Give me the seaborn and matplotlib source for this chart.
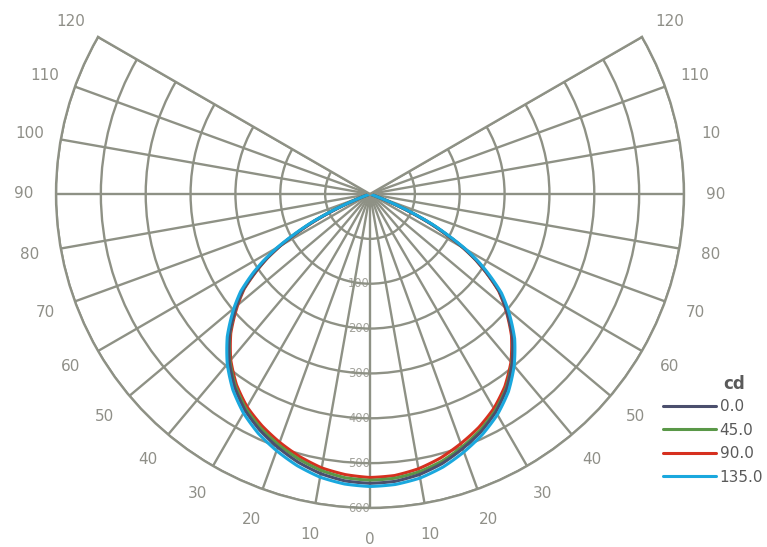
import numpy as np
import pandas as pd
import matplotlib
matplotlib.use("Agg")
import matplotlib.pyplot as plt
import seaborn as sns

# ---- data ----
ANGLES_DEG = [-90, -70, -68, -66, -64, -62, -60, -58, -56, -53, -50, -45, -40, -35,
              -30, -25, -20, -15, -10, -5, 0, 5, 10, 15, 20, 25, 30, 35, 40, 45,
              50, 53, 56, 58, 60, 62, 64, 66, 68, 70, 90]
CD_0 = [-100, -100, -66, -15, 39, 84, 132, 172, 206, 254, 289, 343, 388, 426,
        457, 481, 501, 519, 533, 542, 545, 543, 535, 522, 504, 485, 461, 431, 393, 349,
        295, 261, 213, 180, 141, 94, 50, -5, -58, -100, -100]
CD_45 = [-100, -100, -62, -10, 42, 86, 133, 173, 207, 254, 289, 342, 386, 423,
         453, 476, 495, 512, 526, 535, 538, 536, 529, 517, 500, 481, 458, 429, 392, 349,
         296, 262, 214, 181, 142, 95, 52, -2, -55, -100, -100]
CD_90 = [-100, -100, -67, -16, 37, 82, 130, 170, 203, 251, 285, 339, 383, 419,
         448, 470, 489, 506, 520, 528, 532, 530, 522, 509, 492, 474, 452, 424, 389, 346,
         293, 259, 211, 178, 139, 92, 48, -6, -59, -100, -100]
CD_135 = [-100, -100, -60, -8, 46, 92, 139, 179, 214, 261, 296, 350, 395, 433,
          464, 489, 509, 527, 541, 549, 552, 550, 543, 530, 512, 492, 468, 438, 400, 356,
          302, 267, 219, 186, 147, 100, 56, 2, -52, -100, -100]
PLANES = ["0.0", "45.0", "90.0", "135.0"]
RING_VALUES = [0, 100, 200, 300, 400, 500, 600]
RING_LABELS = ["", "100", "200", "300", "400", "500", "600"]
THETA_TICKS = list(range(-120, 121, 10))
THETA_LABELS = ["120", "110", "100", "90", "80", "70", "60", "50", "40", "30", "20", "10",
                "0", "10", "20", "30", "40", "50", "60", "70", "80", "90", "10", "110", "120"]

# ---- styles ----
COLORS = ["#4b4f6d", "#5a9848", "#d6301f", "#1aa8de"]
DRAW_Z = [2.2, 2.1, 2.0, 2.3]
GRID = "#8e9185"
TICK_COLOR = "#8f8f88"
TEXT_COLOR = "#5a5a5a"

sns.set_theme(style="white")
plt.rcParams["font.family"] = ["DejaVu Sans"]

df = pd.concat([
    pd.DataFrame({"theta": np.deg2rad(ANGLES_DEG), "cd": vals, "plane": name})
    for name, vals in zip(PLANES, [CD_0, CD_45, CD_90, CD_135])
], ignore_index=True)

W, H = 767, 547
fig = plt.figure(figsize=(W / 100, H / 100), dpi=100)
R = 314
cx, cy = 370, 194
ax = fig.add_axes([(cx - R) / W, (H - cy - 0.25 * R - R) / H, 2 * R / W, 2 * R / H],
                  projection="polar")
ax.set_theta_zero_location("S")
ax.set_theta_direction(1)
ax.set_thetalim(thetamin=-120, thetamax=120)

sns.lineplot(data=df, x="theta", y="cd", hue="plane", hue_order=PLANES,
             palette=COLORS, sort=False, estimator=None, linewidth=2.2,
             legend=False, ax=ax)
ax.set_xlabel("")
ax.set_ylabel("")
lines = ax.get_lines()[:4]
for ln, z in zip(lines, DRAW_Z):
    ln.set_zorder(z)
    ln.set_solid_joinstyle("round")
    ln.get_path()._interpolation_steps = 12

ax.set_ylim(-100, 600)
ax.set_yticks(RING_VALUES)
ax.set_yticklabels([])
ax.set_xticks(np.deg2rad(THETA_TICKS))
ax.set_xticklabels(THETA_LABELS)
ax.grid(True, color=GRID, linewidth=1.7)
for sp in ax.spines.values():
    sp.set_color(GRID)
    sp.set_linewidth(1.7)
ax.tick_params(axis="x", length=0, pad=16, labelsize=11, labelcolor=TICK_COLOR)
ax.tick_params(axis="y", length=0)

for v, lab in zip(RING_VALUES, RING_LABELS):
    if lab:
        ax.text(0, v, lab, ha="right", va="center", fontsize=8.3,
                color="#a3a39c", zorder=0.4)

fig.legend(lines, PLANES, loc="upper left",
           bbox_to_anchor=(663 / W, 1 - 399 / H), frameon=False, fontsize=11,
           handlelength=3.5, handletextpad=0.2, labelspacing=0.56,
           borderpad=0, borderaxespad=0, labelcolor=TEXT_COLOR)
fig.text(734 / W, 1 - 384 / H, "cd", fontsize=12, fontweight="bold",
         color=TEXT_COLOR, ha="center", va="center")

fig.savefig("out.png", dpi=100, facecolor="white")
